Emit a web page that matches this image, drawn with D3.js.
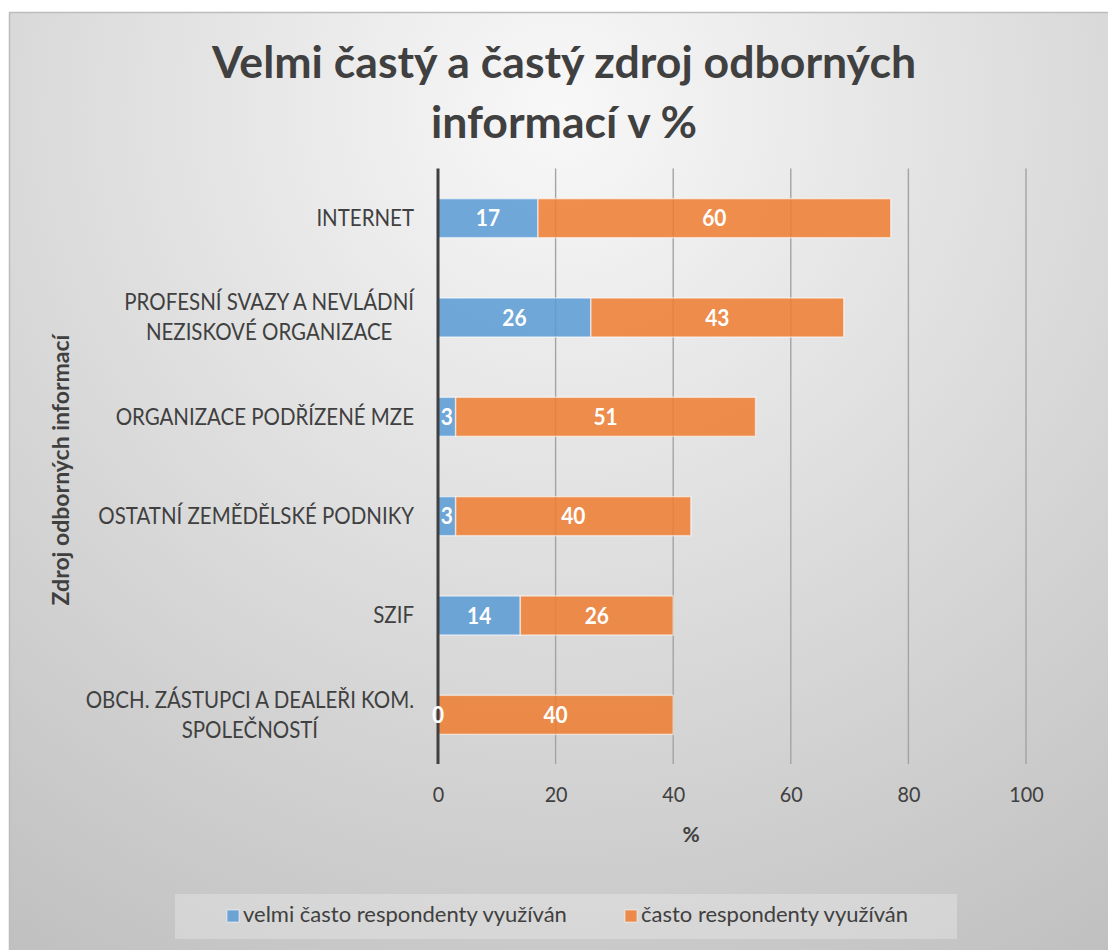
<!DOCTYPE html>
<html>
<head>
<meta charset="utf-8">
<script src="https://cdn.jsdelivr.net/npm/d3@7"></script>
<style>
  html, body { margin: 0; padding: 0; background: #ffffff; }
  svg { display: block; }
</style>
</head>
<body>
<svg id="chart" width="1108" height="950"></svg>
<script>
// ---- data ----
const categories = [
  ["INTERNET"],
  ["PROFESNÍ SVAZY A NEVLÁDNÍ", "NEZISKOVÉ ORGANIZACE"],
  ["ORGANIZACE PODŘÍZENÉ MZE"],
  ["OSTATNÍ ZEMĚDĚLSKÉ PODNIKY"],
  ["SZIF"],
  ["OBCH. ZÁSTUPCI A DEALEŘI KOM.", "SPOLEČNOSTÍ"]
];
const velmiCasto = [17, 26, 3, 3, 14, 0];
const casto = [60, 43, 51, 40, 26, 40];
const seriesNames = ["velmi často respondenty využíván", "často respondenty využíván"];
const xTicks = [0, 20, 40, 60, 80, 100];
const titleLines = ["Velmi častý a častý zdroj odborných", "informací v %"];
const yTitle = "Zdroj odborných informací";
const xTitle = "%";

// ---- drawing ----
const FONT = "Lato, 'Open Sans', sans-serif";
const SX = 0.89; // horizontal condensing to approximate Calibri widths
const svg = d3.select("#chart");
const defs = svg.append("defs");
const grad = defs.append("radialGradient").attr("id", "bg")
  .attr("gradientUnits", "userSpaceOnUse")
  .attr("cx", 560).attr("cy", 110).attr("r", 1000);
grad.append("stop").attr("offset", 0).attr("stop-color", "#f8f8f8");
grad.append("stop").attr("offset", 1).attr("stop-color", "#c0c0c0");

svg.append("rect").attr("x", 9.5).attr("y", 12.5).attr("width", 1110).attr("height", 960)
  .attr("fill", "url(#bg)").attr("stroke", "#bcbcbc").attr("stroke-width", 1.5);

const keys = categories.map((c, i) => i);
const x = d3.scaleLinear().domain([0, 100]).range([438, 1026]);
const y = d3.scaleBand().domain(keys).range([168.5, 764.5]).paddingInner(0.607).paddingOuter(0.3035);

// title
svg.append("g").selectAll("text").data(titleLines).join("text")
  .attr("x", 564).attr("y", (d, i) => 78 + i * 60)
  .attr("text-anchor", "middle")
  .attr("font-family", FONT).attr("font-weight", 700).attr("font-size", 44.6)
  .attr("fill", "#404040").text(d => d);

// gridlines
svg.append("g").selectAll("line").data(xTicks.filter(t => t > 0)).join("line")
  .attr("x1", d => x(d)).attr("x2", d => x(d))
  .attr("y1", 168.5).attr("y2", 764)
  .attr("stroke", "#a3a3a3").attr("stroke-width", 1.4);

// x axis tick labels
const xAxis = d3.axisBottom(x).tickValues(xTicks).tickSize(0).tickPadding(0).tickFormat(d3.format("d"));
const gx = svg.append("g").attr("transform", "translate(0,786)").call(xAxis);
gx.select(".domain").remove();
gx.selectAll("text").attr("font-family", FONT).attr("font-size", 22).attr("fill", "#404040")
  .attr("dy", "0.72em").attr("transform", "scale(0.9,1)");

// stacked bars
const stackData = keys.map(i => ({ i, a: velmiCasto[i], b: casto[i] }));
const stack = d3.stack().keys(["a", "b"])(stackData);
const colors = ["#5b9bd5", "#ed7d31"];
const gBars = svg.append("g");
stack.forEach((s, si) => {
  gBars.append("g").selectAll("rect").data(s).join("rect")
    .attr("x", d => x(d[0]))
    .attr("y", d => y(d.data.i))
    .attr("width", d => x(d[1]) - x(d[0]))
    .attr("height", y.bandwidth())
    .attr("fill", colors[si]).attr("fill-opacity", 0.86)
    .attr("stroke", "#ffffff").attr("stroke-opacity", 0.55).attr("stroke-width", 1.5);
});

// vertical axis line at 0
svg.append("line").attr("x1", x(0)).attr("x2", x(0)).attr("y1", 168.5).attr("y2", 764)
  .attr("stroke", "#404040").attr("stroke-width", 3);

// data labels (drawn above the axis line)
const gLabels = svg.append("g");
stack.forEach((s, si) => {
  gLabels.append("g").selectAll("text").data(s).join("text")
    .attr("transform", d => `translate(${(x(d[0]) + x(d[1])) / 2},${y(d.data.i) + y.bandwidth() / 2 + 8}) scale(0.95,1)`)
    .attr("text-anchor", "middle")
    .attr("font-family", FONT).attr("font-weight", 700).attr("font-size", 22)
    .attr("fill", "#ffffff")
    .text(d => d[1] - d[0]);
});

// category labels
const gCat = svg.append("g").attr("transform", `translate(414,0) scale(${SX},1)`);
categories.forEach((lines, i) => {
  const cy = y(i) + y.bandwidth() / 2;
  const t = gCat.append("text")
    .attr("font-family", FONT).attr("font-size", 23).attr("fill", "#404040")
    .attr("text-anchor", "middle");
  const n = lines.length;
  const spans = lines.map((l, j) => t.append("tspan").attr("y", cy + 8 + (j - (n - 1) / 2) * 30).text(l));
  let maxW = 0;
  spans.forEach(sp => { maxW = Math.max(maxW, sp.node().getComputedTextLength()); });
  spans.forEach(sp => sp.attr("x", -maxW / 2));
});

// axis titles
svg.append("text").attr("transform", "translate(69,470) rotate(-90)")
  .attr("text-anchor", "middle")
  .attr("font-family", FONT).attr("font-weight", 700).attr("font-size", 23)
  .attr("fill", "#404040").text(yTitle);
svg.append("text").attr("x", 691).attr("y", 842).attr("text-anchor", "middle")
  .attr("font-family", FONT).attr("font-weight", 700).attr("font-size", 21)
  .attr("fill", "#404040").text(xTitle);

// legend
svg.append("rect").attr("x", 175).attr("y", 894).attr("width", 782).attr("height", 45)
  .attr("fill", "#f2f2f2").attr("fill-opacity", 0.35);
const legX = [227, 625];
const gLeg = svg.append("g");
seriesNames.forEach((name, i) => {
  gLeg.append("rect").attr("x", legX[i]).attr("y", 910).attr("width", 12).attr("height", 12)
    .attr("fill", colors[i]).attr("fill-opacity", 0.86)
    .attr("stroke", "#ffffff").attr("stroke-opacity", 0.55).attr("stroke-width", 1);
  gLeg.append("text").attr("x", legX[i] + 16).attr("y", 922)
    .attr("font-family", FONT).attr("font-size", 22).attr("fill", "#404040").text(name);
});
</script>
</body>
</html>
